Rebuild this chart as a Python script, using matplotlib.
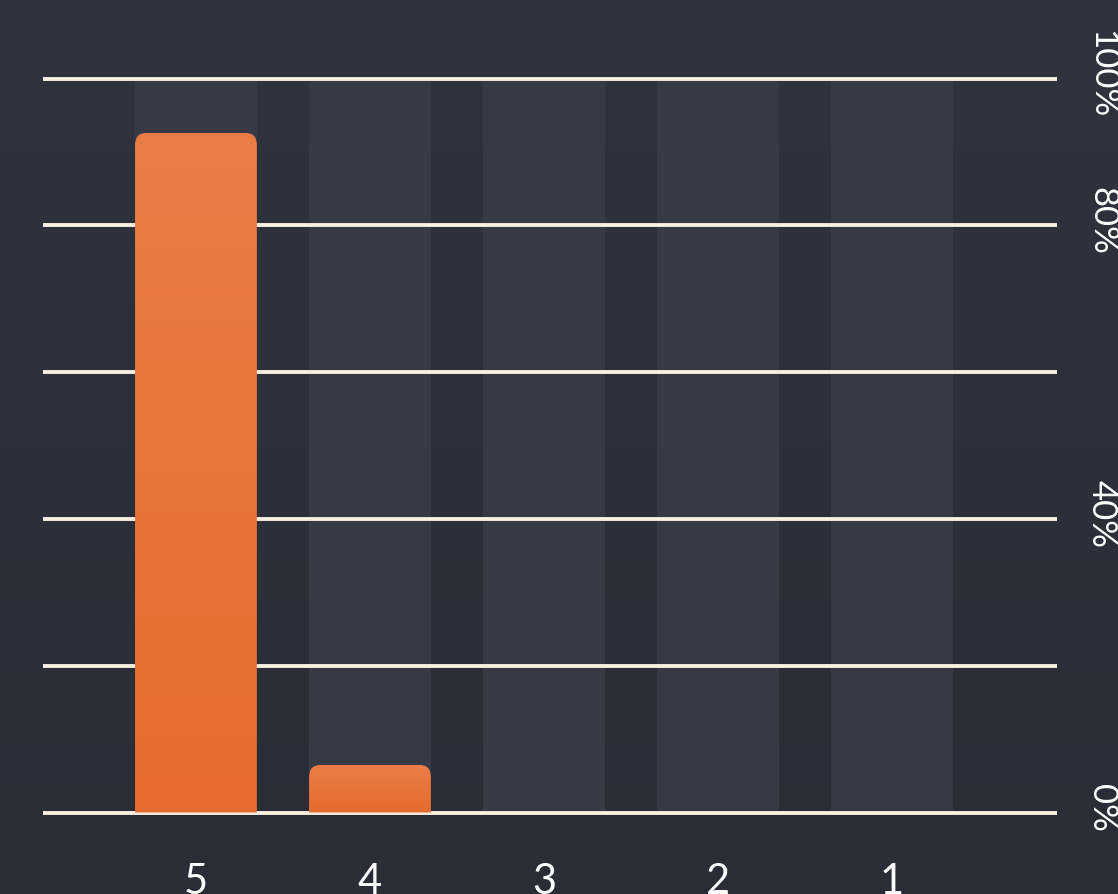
import numpy as np
import matplotlib.pyplot as plt
from matplotlib.path import Path
from matplotlib.patches import PathPatch
from matplotlib.colors import LinearSegmentedColormap

categories = ["5", "4", "3", "2", "1"]
values = [92.6, 6.5, 0, 0, 0]
grid_levels = [0, 20, 40, 60, 80, 100]
shown_labels = {0: "0%", 40: "40%", 80: "80%", 100: "100%"}

plt.rcParams['font.family'] = ['Lato', 'DejaVu Sans']

W, H = 1118, 895
fig = plt.figure(figsize=(W / 100, H / 100), dpi=100)

# background gradient
bg_cmap = LinearSegmentedColormap.from_list("bg", ["#2a2c36", "#30323e"])
bg = fig.add_axes([0, 0, 1, 1], zorder=-10)
bg.imshow(np.linspace(0, 1, 256).reshape(-1, 1), cmap=bg_cmap, aspect='auto',
          extent=[0, 1, 0, 1], origin='lower')
bg.axis('off')

ax = fig.add_axes([43 / W, (H - 813.5) / H, 1014 / W, 734 / H])
ax.patch.set_visible(False)
x = np.arange(len(categories))

# column bands behind each bar
ax.bar(x, [100] * len(categories), width=0.7, color='#373945', zorder=0)

for g in grid_levels:
    ax.axhline(g, color='#f8f0e1', lw=2.8, zorder=1, clip_on=False,
               solid_capstyle='butt')

bars = ax.bar(x, values, width=0.7, color='none', zorder=3)

bar_cmap = LinearSegmentedColormap.from_list("bar", ["#e56b2e", "#e97d46"])
rx = 12 / 174
ry = 12 / 7.34
for rect in bars:
    h = rect.get_height()
    if h <= 0:
        continue
    x0 = rect.get_x()
    x1 = x0 + rect.get_width()
    verts = [(x0, 0), (x0, h - ry), (x0, h), (x0 + rx, h), (x1 - rx, h),
             (x1, h), (x1, h - ry), (x1, 0), (x0, 0)]
    codes = [Path.MOVETO, Path.LINETO, Path.CURVE3, Path.CURVE3, Path.LINETO,
             Path.CURVE3, Path.CURVE3, Path.LINETO, Path.CLOSEPOLY]
    patch = PathPatch(Path(verts, codes), facecolor='none', edgecolor='none', zorder=3)
    ax.add_patch(patch)
    im = ax.imshow(np.linspace(0, 1, 256).reshape(-1, 1), cmap=bar_cmap, aspect='auto',
                   extent=[x0, x1, 0, h], origin='lower', zorder=3)
    im.set_clip_path(patch)

ax.set_xlim(-0.879, 4.948)
ax.set_ylim(0, 100)
for s in ax.spines.values():
    s.set_visible(False)
ax.set_xticks([])
ax.set_yticks([])

for xi, c in zip(x, categories):
    ax.text(xi, -0.109, c, transform=ax.get_xaxis_transform(), ha='center',
            va='baseline', fontsize=30, color='white')

for level, lab in shown_labels.items():
    ypix = 812 - level * 7.34 - 4
    fig.text(1092 / W, (H - ypix) / H, lab, rotation=-90, rotation_mode='anchor',
             ha='center', va='baseline', fontsize=25, color='white')

fig.savefig("out.png", dpi=100)
